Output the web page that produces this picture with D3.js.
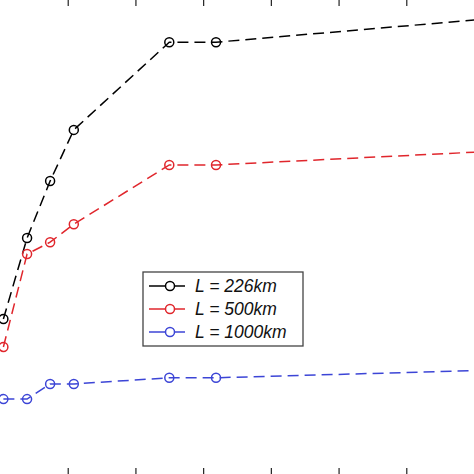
<!DOCTYPE html>
<html><head><meta charset="utf-8">
<script src="https://cdn.jsdelivr.net/npm/d3@7"></script>
<style>body{margin:0;background:#fff}</style>
</head><body>
<svg id="c" width="474" height="474"></svg>
<script>
const xVals = [0.05, 0.4, 0.74, 1.09, 2.5, 3.19, 8];
const y226 = [3.27, 4.98, 6.18, 7.26, 9.11, 9.11, 9.70];
const y500 = [2.68, 4.64, 4.89, 5.27, 6.52, 6.52, 6.86];
const y1000 = [1.58, 1.58, 1.90, 1.90, 2.03, 2.03, 2.22];
const xTicks = [1, 2, 3, 4, 5, 6];
const series = [
  {name: "L = 226km", color: "#000", vals: y226},
  {name: "L = 500km", color: "#e0262c", vals: y500},
  {name: "L = 1000km", color: "#3c45d6", vals: y1000}
];

const svg = d3.select("#c");
const x = d3.scaleLinear().domain([0, 7]).range([0, 474]);
const y = d3.scaleLinear().domain([0, 10]).range([474, 0]);

svg.append("g")
  .call(d3.axisTop(x).tickValues(xTicks).tickSize(-6).tickFormat(""))
  .call(g => g.select(".domain").remove());
svg.append("g").attr("transform", "translate(0,474)")
  .call(d3.axisBottom(x).tickValues(xTicks).tickSize(-6).tickFormat(""))
  .call(g => g.select(".domain").remove());
svg.selectAll(".tick line").attr("stroke", "#222").attr("stroke-width", 1.2);

const line = d3.line().x((d, i) => x(xVals[i])).y(d => y(d));
series.forEach(s => {
  svg.append("path").datum(s.vals).attr("d", line)
    .attr("fill", "none").attr("stroke", s.color).attr("stroke-width", 1.5)
    .attr("stroke-dasharray", "11,6");
  svg.append("g").selectAll("circle").data(s.vals).join("circle")
    .attr("cx", (d, i) => x(xVals[i])).attr("cy", d => y(d)).attr("r", 4.5)
    .attr("fill", "none").attr("stroke", s.color).attr("stroke-width", 1.5);
});

const lg = svg.append("g").attr("transform", "translate(143,272)");
lg.append("rect").attr("width", 160).attr("height", 74)
  .attr("fill", "#fff").attr("stroke", "#444").attr("stroke-width", 1.3);
series.forEach((s, i) => {
  const yy = 14 + i * 23;
  lg.append("line").attr("x1", 6).attr("x2", 42).attr("y1", yy).attr("y2", yy)
    .attr("stroke", s.color).attr("stroke-width", 1.5);
  lg.append("circle").attr("cx", 27).attr("cy", yy).attr("r", 4.5)
    .attr("fill", "#fff").attr("stroke", s.color).attr("stroke-width", 1.5);
  lg.append("text").attr("x", 52).attr("y", yy + 6).text(s.name)
    .attr("font-family", "Liberation Sans, Arial, sans-serif")
    .attr("font-style", "italic").attr("font-size", 17.5).attr("fill", "#111");
});
</script>
</body></html>
